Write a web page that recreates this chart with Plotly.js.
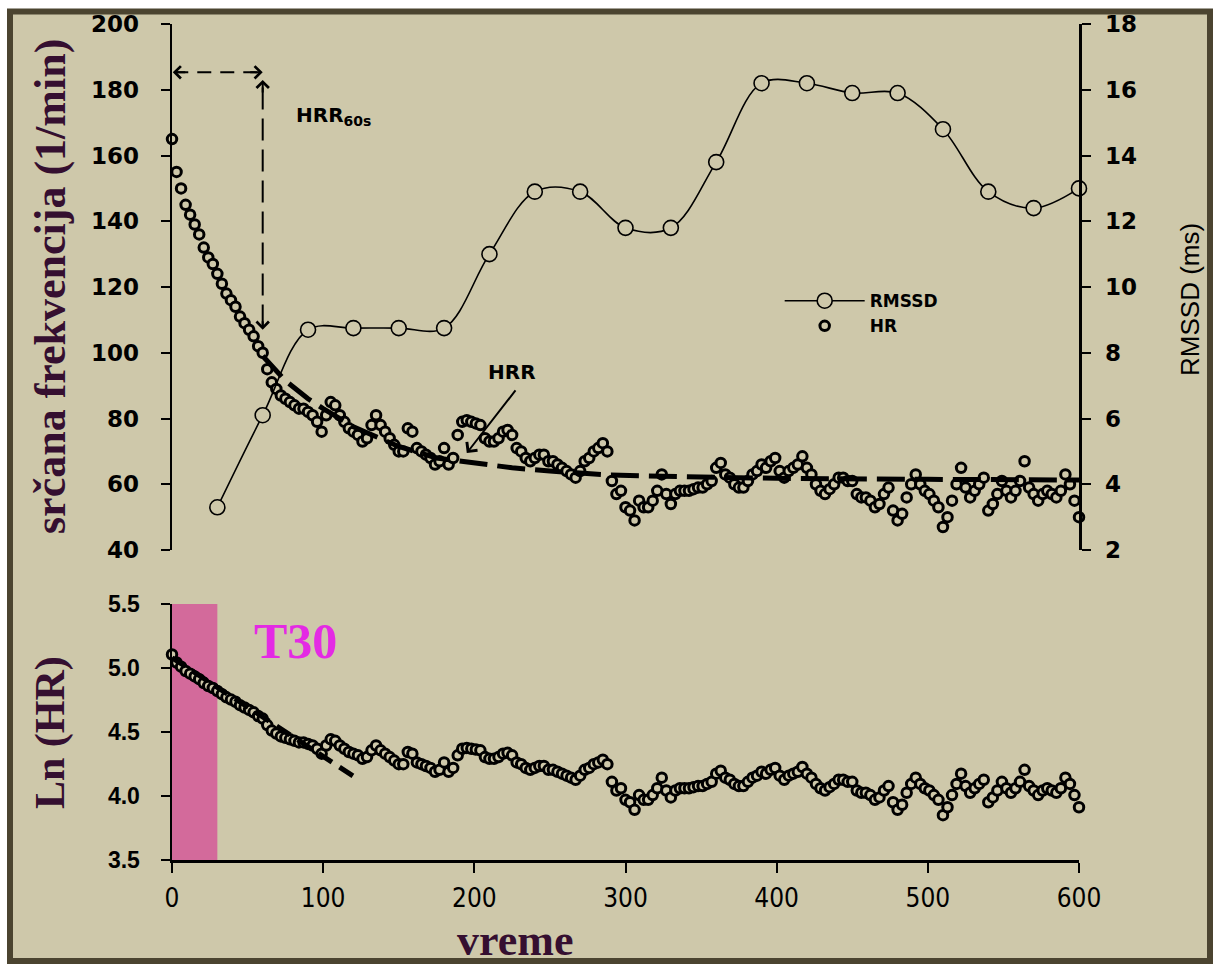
<!DOCTYPE html>
<html><head><meta charset="utf-8">
<script src="https://cdn.plot.ly/plotly-3.0.1.min.js"></script>
<style>html,body{margin:0;padding:0;background:#fff}#chart{width:1215px;height:964px}</style>
</head><body><div id="chart"></div>
<script>
// ---- data ----
const hrTime = [
  0,3,6,9,12,15,18,21,24,27,30,33,36,39,42,45,48,51,54,57,
  60,63,66,69,72,75,78,81,84,87,90,93,96,99,102,105,108,111,114,117,
  120,123,126,129,132,135,138,141,144,147,150,153,156,159,162,165,168,171,174,177,
  180,183,186,189,192,195,198,201,204,207,210,213,216,219,222,225,228,231,234,237,
  240,243,246,249,252,255,258,261,264,267,270,273,276,279,282,285,288,291,294,297,
  300,303,306,309,312,315,318,321,324,327,330,333,336,339,342,345,348,351,354,357,
  360,363,366,369,372,375,378,381,384,387,390,393,396,399,402,405,408,411,414,417,
  420,423,426,429,432,435,438,441,444,447,450,453,456,459,462,465,468,471,474,477,
  480,483,486,489,492,495,498,501,504,507,510,513,516,519,522,525,528,531,534,537,
  540,543,546,549,552,555,558,561,564,567,570,573,576,579,582,585,588,591,594,597,
  600
];
const hrValues = [
  165,155,150,145,142,139,136,132,129,127,124,121,118,116,114,111,109,107,105,102,
  100,95,91,89,87,86,85,84,83,83,82,81,79,76,81,85,84,81,79,77,
  76,75,73,74,78,81,78,76,74,72,70,70,77,76,71,70,69,68,66,67,
  71,66,68,75,79,79.5,79,78.5,78,74,73,73,74,76,76.5,75,71,70,68,67,
  68,69,69,67,67,66,65,64,63,62,64,67,68,70,71,72.5,70,61,57,58,
  53,52,49,55,53,53,55,58,63,57,54,57,58,58,58,58.5,59,59,60,61,
  65,66.5,63,62,60,59,59,61,63,64,66,65,67,68,64,62,64,65,66,68.5,
  65,63,60,58,57,58.5,60,62,62,61,61,57,56,56,55,53,54,57,59,52,
  49,51,56,60,63,60,58,57,55,53,47,50,55,60,65,59,56,58,60,62,
  52,54,57,61,58,56,58,61,67,59,57,55,57,58,57,56,58,63,60,55,
  50
];
const rmssdTime = [30,60,90,120,150,180,210,240,270,300,330,360,390,420,450,480,510,540,570,600];
const rmssdValues = [3.3,6.1,8.7,8.75,8.75,8.75,11.0,12.9,12.9,11.8,11.8,13.8,16.2,16.2,15.9,15.9,14.8,12.9,12.4,13.0];
const fitTime = [60,75,90,100,120,150,175,200,225,250,290,350,400,500,600];
const fitHR = [99,91.5,86,83,77.5,71.5,68,66.4,65,64,62.8,62.2,61.8,61.5,61.3];
const lnFitTime = [0,122];
const lnFitValues = [5.08,4.14];
const xTickVals = [0,100,200,300,400,500,600];
const t30Span = [0,30];

const lnHR = hrValues.map(v => Math.log(v));

// ---- styles ----
const BEIGE = '#cec8aa';
const DARK = '#000000';
const TITLE = '#350f30';
const boldSans = {family:'DejaVu Sans, Verdana, sans-serif', size:23, color:DARK, weight:'bold'};
const hrMarker = {symbol:'circle', size:9.5, color:BEIGE, line:{color:DARK, width:3}};

const traces = [
  {x:rmssdTime, y:rmssdValues, name:'RMSSD', type:'scatter', mode:'lines+markers', xaxis:'x', yaxis:'y3',
   line:{color:DARK, width:1.6, shape:'spline', smoothing:1},
   marker:{symbol:'circle', size:15, color:BEIGE, line:{color:DARK, width:1.6}}, cliponaxis:false},
  {x:hrTime, y:hrValues, name:'HR', type:'scatter', mode:'markers', xaxis:'x', yaxis:'y',
   marker:hrMarker, cliponaxis:false},
  {x:fitTime, y:fitHR, name:'fit', showlegend:false, type:'scatter', mode:'lines', xaxis:'x', yaxis:'y',
   line:{color:DARK, width:5, dash:'28px,10px'}},
  {x:hrTime, y:lnHR, name:'Ln(HR)', showlegend:false, type:'scatter', mode:'markers', xaxis:'x', yaxis:'y2',
   marker:hrMarker, cliponaxis:false},
  {x:lnFitTime, y:lnFitValues, name:'ln fit', showlegend:false, type:'scatter', mode:'lines', xaxis:'x', yaxis:'y2',
   line:{color:DARK, width:5, dash:'16px,9px'}}
];

const axisCommon = {showline:true, linewidth:2.5, linecolor:DARK, ticks:'outside', ticklen:9, tickwidth:2,
  tickcolor:DARK, showgrid:false, zeroline:false, fixedrange:true};

const layout = {
  width:1215, height:964,
  margin:{l:172, r:136, t:24, b:104, pad:0},
  paper_bgcolor:'#ffffff', plot_bgcolor:'rgba(0,0,0,0)',
  showlegend:true,
  legend:{x:0.67, y:0.69, xanchor:'left', yanchor:'top', bgcolor:'rgba(0,0,0,0)', itemwidth:80,
    font:{family:'DejaVu Sans, Verdana, sans-serif', size:17, color:DARK, weight:'bold'}, traceorder:'normal'},
  xaxis:Object.assign({}, axisCommon, {domain:[0,1], anchor:'y2', range:[0,600], tickvals:xTickVals,
    ticklen:10, tickfont:{family:'DejaVu Sans Condensed, Liberation Sans Narrow, sans-serif', size:26, color:DARK},
    ticklabelstandoff:3}),
  yaxis:Object.assign({}, axisCommon, {domain:[0.3708,1], anchor:'x', range:[40,200], tick0:40, dtick:20,
    tickfont:boldSans, ticklabelstandoff:17}),
  yaxis2:Object.assign({}, axisCommon, {domain:[0,0.3062], anchor:'x', range:[3.5,5.5], tick0:3.5, dtick:0.5,
    tickformat:'.1f', tickfont:{family:'Liberation Sans, Arial, sans-serif', size:23, color:DARK, weight:'bold'},
    ticklabelstandoff:16}),
  yaxis3:Object.assign({}, axisCommon, {overlaying:'y', side:'right', anchor:'x', range:[2,18], tick0:2, dtick:2,
    tickfont:boldSans, ticklabelstandoff:10}),
  shapes:[
    {type:'rect', xref:'paper', yref:'paper', x0:-0.17861, x1:1.14443, y0:-0.12081, y1:1.01495,
     fillcolor:BEIGE, line:{color:'#4b4430', width:6}, layer:'below'},
    {type:'rect', xref:'x', yref:'y2', x0:t30Span[0], x1:t30Span[1], y0:3.5, y1:5.5,
     fillcolor:'#d36a9b', line:{width:0}, layer:'below'},
    {type:'line', xref:'x', yref:'y', x0:1.5, x1:58.5, y0:185.3, y1:185.3,
     line:{color:DARK, width:2, dash:'14px,9px'}},
    {type:'line', xref:'x', yref:'y', x0:60, x1:60, y0:108, y1:182,
     line:{color:DARK, width:2, dash:'22px,9px'}}
  ],
  annotations:[
    {x:81, y:172, xref:'x', yref:'y', text:'HRR<sub>60s</sub>', showarrow:false, xanchor:'left', yanchor:'middle',
     font:{family:'DejaVu Sans, Verdana, sans-serif', size:20, color:DARK, weight:'bold'}},
    {x:225, y:94, xref:'x', yref:'y', text:'HRR', showarrow:false, xanchor:'center', yanchor:'middle',
     font:{family:'DejaVu Sans, Verdana, sans-serif', size:20, color:DARK, weight:'bold'}},
    {x:195, y:69.5, ax:228, ay:89, xref:'x', yref:'y', axref:'x', ayref:'y', text:'', showarrow:true,
     arrowhead:4, arrowsize:1.3, arrowwidth:2, arrowcolor:DARK},
    {x:0.5, y:185.3, xref:'x', yref:'y', ax:14, ay:0, text:'', showarrow:true, arrowhead:4, arrowsize:1.2, arrowwidth:2, arrowcolor:DARK},
    {x:60, y:185.3, xref:'x', yref:'y', ax:-14, ay:0, text:'', showarrow:true, arrowhead:4, arrowsize:1.2, arrowwidth:2, arrowcolor:DARK},
    {x:60, y:183, xref:'x', yref:'y', ax:0, ay:14, text:'', showarrow:true, arrowhead:4, arrowsize:1.2, arrowwidth:2, arrowcolor:DARK},
    {x:60, y:107, xref:'x', yref:'y', ax:0, ay:-10, text:'', showarrow:true, arrowhead:4, arrowsize:1.2, arrowwidth:2, arrowcolor:DARK},
    {x:82, y:5.21, xref:'x', yref:'y2', text:'T30', showarrow:false, xanchor:'center', yanchor:'middle',
     font:{family:'Liberation Serif, Times New Roman, serif', size:50, color:'#e42ae4', weight:'bold'}},
    {x:-0.1345, y:0.6854, xref:'paper', yref:'paper', text:'srčana frekvencija (1/min)', textangle:-90, showarrow:false,
     xanchor:'center', yanchor:'middle',
     font:{family:'Liberation Serif, Times New Roman, serif', size:44, color:TITLE, weight:'bold'}},
    {x:-0.1345, y:0.1519, xref:'paper', yref:'paper', text:'Ln (HR)', textangle:-90, showarrow:false,
     xanchor:'center', yanchor:'middle',
     font:{family:'Liberation Serif, Times New Roman, serif', size:42, color:TITLE, weight:'bold'}},
    {x:0.3782, y:-0.0957, xref:'paper', yref:'paper', text:'vreme', showarrow:false,
     xanchor:'center', yanchor:'middle',
     font:{family:'Liberation Serif, Times New Roman, serif', size:44, color:TITLE, weight:'bold'}},
    {x:1.1224, y:0.6699, xref:'paper', yref:'paper', text:'RMSSD (ms)', textangle:-90, showarrow:false,
     xanchor:'center', yanchor:'middle',
     font:{family:'Liberation Sans, Arial, sans-serif', size:26, color:DARK}}
  ]
};

Plotly.newPlot('chart', traces, layout, {displayModeBar:false, staticPlot:true});
</script>
</body></html>
